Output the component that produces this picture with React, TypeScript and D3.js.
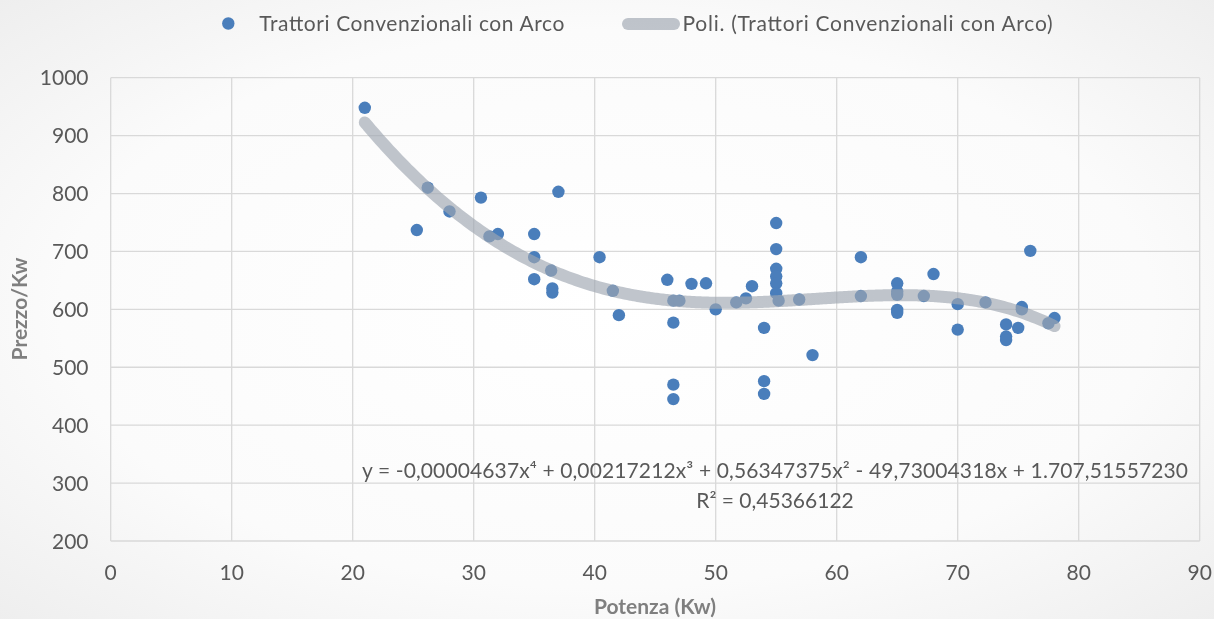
import React from "react";
import * as d3 from "d3";

const power = [21, 25.3, 26.2, 28, 30.6, 31.3, 32, 35, 35, 35, 36.4, 36.5, 36.5, 37, 40.4, 41.5, 42, 46, 46.5, 47, 46.5, 46.5, 46.5, 48, 49.2, 50, 51.7, 52.5, 53, 54, 54, 54, 55, 55, 55, 55, 55, 55, 55.2, 56.9, 58, 62, 62, 65, 65, 65, 65, 65, 67.2, 68, 70, 70, 72.3, 74, 74, 74, 75, 75.3, 75.3, 76, 77.5, 78];
const price = [948, 737, 810, 769, 793, 726, 730, 730, 690, 652, 667, 636, 629, 803, 690, 632, 590, 651, 615, 615, 577, 470, 445, 644, 645, 600, 612, 619, 640, 568, 476, 454, 749, 704, 670, 657, 645, 628, 615, 617, 521, 690, 623, 645, 631, 625, 599, 594, 623, 661, 609, 565, 612, 574, 553, 547, 568, 604, 600, 701, 576, 585];

// polynomial trendline coefficients shown on the chart (x^4, x^3, x^2, x, c)
const trendCoefs = [-0.00004637, 0.00217212, 0.56347375, -49.73004318, 1707.5155723];
const trendRange = [21, 78];

const xTicks = [0, 10, 20, 30, 40, 50, 60, 70, 80, 90];
const yTicks = [200, 300, 400, 500, 600, 700, 800, 900, 1000];

const seriesName = "Trattori Convenzionali con Arco";
const trendName = "Poli. (Trattori Convenzionali con Arco)";
const equationText = "y = -0,00004637x⁴ + 0,00217212x³ + 0,56347375x² - 49,73004318x + 1.707,51557230";
const r2Text = "R² = 0,45366122";
const xTitle = "Potenza (Kw)";
const yTitle = "Prezzo/Kw";

const W = 1214;
const H = 619;
const L = 110.7, R = 1199.7, T = 77.7, B = 541;

export default function App() {
  const x = d3.scaleLinear().domain([0, 90]).range([L, R]);
  const y = d3.scaleLinear().domain([200, 1000]).range([B, T]);
  const poly = (v: number) => trendCoefs.reduce((acc, c) => acc * v + c, 0);
  const steps = d3.range(trendRange[0], trendRange[1] + 0.0001, 0.25);
  const line = d3.line<number>().x((v) => x(v)).y((v) => y(poly(v))).curve(d3.curveBasis);
  const font = "Lato, 'Open Sans', sans-serif";
  const textColor = "#595959";
  const blue = "#4a7ebb";
  const trendColor = "#9ea6b1";

  return (
    <div style={{ position: "fixed", left: 0, top: 0 }}>
      <svg width={W} height={H} style={{ display: "block" }}>
        <defs>
          <radialGradient id="bg" cx="50%" cy="50%" r="75%">
            <stop offset="0%" stopColor="#ffffff" />
            <stop offset="60%" stopColor="#fbfbfb" />
            <stop offset="100%" stopColor="#ececec" />
          </radialGradient>
        </defs>
        <rect x={0} y={0} width={W} height={H} fill="url(#bg)" />
        {/* grid */}
        {yTicks.map((t) => (
          <line key={"gy" + t} x1={L} x2={R} y1={y(t)} y2={y(t)} stroke="#d9d9d9" strokeWidth={1.3} />
        ))}
        {xTicks.map((t) => (
          <line key={"gx" + t} x1={x(t)} x2={x(t)} y1={T} y2={B} stroke="#d9d9d9" strokeWidth={1.3} />
        ))}
        {/* tick labels */}
        {yTicks.map((t) => (
          <text key={"ty" + t} x={88.5} y={y(t)} dy="0.36em" textAnchor="end" fontFamily={font} fontSize={21} fill={textColor}>
            {t}
          </text>
        ))}
        {xTicks.map((t) => (
          <text key={"tx" + t} x={x(t)} y={579.5} textAnchor="middle" fontFamily={font} fontSize={21} fill={textColor}>
            {t}
          </text>
        ))}
        {/* points */}
        {power.map((p, i) => (
          <circle key={"p" + i} cx={x(p)} cy={y(price[i])} r={6.2} fill={blue} />
        ))}
        {/* trendline */}
        <path d={line(steps) || ""} fill="none" stroke={trendColor} strokeOpacity={0.65} strokeWidth={12} strokeLinecap="round" strokeLinejoin="round" />
        {/* equation */}
        <text x={362} y={478} textLength={826} fontFamily={font} fontSize={21} fill={textColor}>
          {equationText}
        </text>
        <text x={775} y={508} textAnchor="middle" fontFamily={font} fontSize={21} fill={textColor}>
          {r2Text}
        </text>
        {/* axis titles */}
        <text x={655} y={614} textAnchor="middle" fontFamily={font} fontWeight="bold" fontSize={21} fill="#7f7f7f">
          {xTitle}
        </text>
        <text transform="translate(26.5,309) rotate(-90)" textAnchor="middle" fontFamily={font} fontWeight="bold" fontSize={21} fill="#7f7f7f">
          {yTitle}
        </text>
        {/* legend */}
        <circle cx={228.3} cy={23.5} r={6.2} fill={blue} />
        <text x={259.3} y={31} textLength={305} fontFamily={font} fontSize={21} fill={textColor}>
          {seriesName}
        </text>
        <line x1={628} x2={674} y1={24} y2={24} stroke={trendColor} strokeOpacity={0.65} strokeWidth={12} strokeLinecap="round" />
        <text x={682.5} y={31} textLength={370} fontFamily={font} fontSize={21} fill={textColor}>
          {trendName}
        </text>
      </svg>
    </div>
  );
}
